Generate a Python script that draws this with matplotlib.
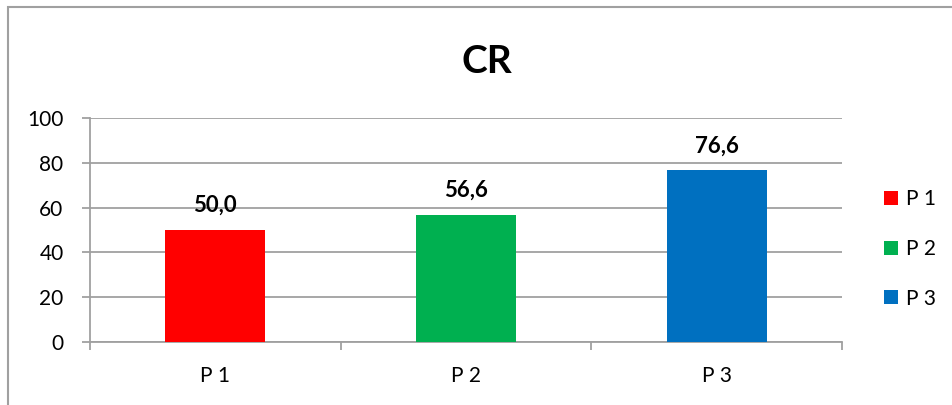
import matplotlib
matplotlib.use("Agg")
import matplotlib.pyplot as plt
from matplotlib.patches import Patch, Rectangle

categories = ["P 1", "P 2", "P 3"]
values = [50.0, 56.6, 76.6]
colors = ["#ff0000", "#00b050", "#0070c0"]
y_ticks = [0, 20, 40, 60, 80, 100]

plt.rcParams["font.family"] = ["Lato", "DejaVu Sans"]
grey = "#a0a0a0"

fig = plt.figure(figsize=(9.52, 4.05), dpi=100)
ax = fig.add_axes([90 / 952, 63 / 405, 752 / 952, 224 / 405])

x = range(len(categories))
bars = ax.bar(x, values, width=0.40, color=colors, zorder=3)

ax.set_xlim(-0.5, len(categories) - 0.5)
ax.set_ylim(0, 100)
ax.set_yticks(y_ticks)
ax.set_yticklabels([str(t) for t in y_ticks], fontsize=15)
ax.set_xticks(list(x))
ax.set_xticklabels(categories, fontsize=15)
ax.set_xticks([i - 0.5 for i in range(len(categories) + 1)], minor=True)

ax.grid(axis="y", color=grey, linewidth=1.3, zorder=0)
for side in ("top", "right"):
    ax.spines[side].set_visible(False)
for side in ("left", "bottom"):
    ax.spines[side].set_color(grey)
    ax.spines[side].set_linewidth(1.3)

ax.tick_params(axis="y", length=6, width=1.3, color=grey, pad=13)
ax.tick_params(axis="x", which="major", length=0, pad=17)
ax.tick_params(axis="x", which="minor", length=6, width=1.3, color=grey)

# value labels above each bar, decimal comma
for bar, v in zip(bars, values):
    ax.annotate(f"{v:.1f}".replace(".", ","),
                (bar.get_x() + bar.get_width() / 2, v),
                xytext=(0, 13), textcoords="offset points",
                ha="center", va="baseline", fontsize=16, fontweight="bold")

fig.text(487 / 952, 0.820, "CR", ha="center", va="baseline",
         fontsize=28, fontweight="bold")

handles = [Patch(facecolor=c, edgecolor="none") for c in colors]
fig.legend(handles, categories, loc="center left",
           bbox_to_anchor=(884 / 952, (405 - 249) / 405),
           frameon=False, fontsize=15, borderpad=0, borderaxespad=0,
           handlelength=0.67, handleheight=0.67, handletextpad=0.4,
           labelspacing=1.42)

# chart area frame
fig.patches.append(Rectangle((7.5 / 952, -0.1), 1.1, (405 - 6.5) / 405 + 0.1,
                             transform=fig.transFigure, fill=False,
                             edgecolor=grey, linewidth=1.5))

fig.savefig("out.png", dpi=100)
